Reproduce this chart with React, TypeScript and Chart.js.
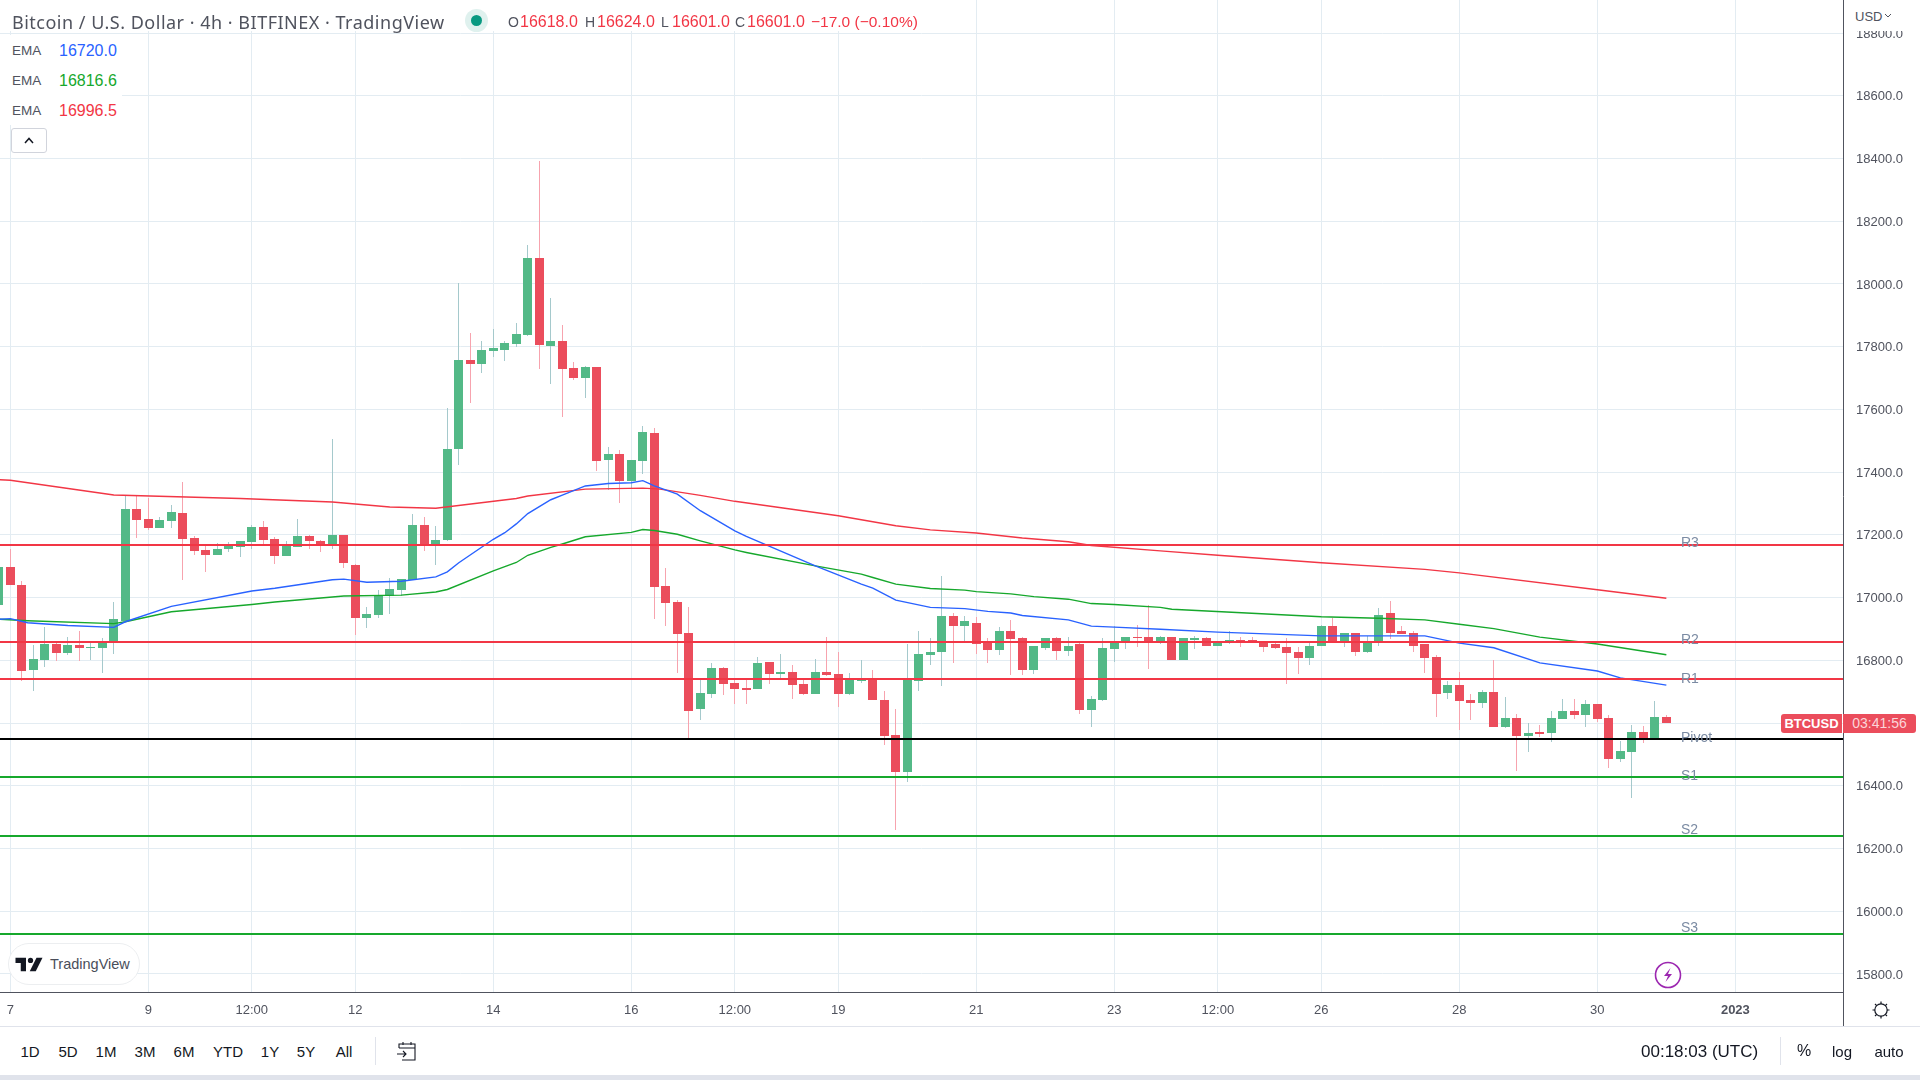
import React, { useEffect, useRef } from "react";
import { Chart, registerables } from "chart.js";

Chart.register(...registerables);

const firstCandleIndex = -1;
const opens = [
  16976,17096,17041,16769,16800,16851,16823,16848,16838,16838,
  16860,16927,17282,17250,17221,17243,17269,17189,17151,17135,
  17154,17160,17176,17224,17186,17132,17160,17196,17180,17169,
  17199,17103,16934,16943,17004,17024,17056,17231,17168,17183,
  17473,17757,17745,17786,17789,17809,17837,18083,17802,17818,
  17732,17700,17735,17438,17457,17371,17435,17525,17036,16985,
  16886,16646,16694,16774,16729,16713,16710,16796,16755,16764,
  16723,16694,16764,16758,16694,16733,16745,16675,16563,16445,
  16733,16816,16825,16940,16908,16918,16857,16832,16892,16870,
  16768,16838,16870,16831,16851,16643,16675,16835,16857,16873,
  16873,16857,16876,16800,16866,16870,16847,16857,16866,16866,
  16860,16851,16841,16825,16809,16847,16911,16863,16886,16828,
  16860,16950,16895,16886,16851,16812,16695,16721,16673,16663,
  16698,16587,16615,16558,16571,16567,16612,16638,16625,16660,
  16615,16484,16507,16571,16551,16618,
];
const highs = [
  17130,17156,17054,16848,16905,16854,16873,16895,16854,16870,
  16985,17324,17324,17318,17256,17294,17368,17196,17165,17173,
  17176,17180,17231,17243,17192,17180,17250,17199,17183,17505,
  17199,17106,16969,17023,17061,17058,17266,17256,17228,17604,
  18003,17844,17818,17856,17818,17876,18125,18392,17955,17869,
  17751,17738,17735,17480,17470,17438,17547,17540,17093,16991,
  16969,16736,16793,16780,16736,16745,16812,16796,16819,16784,
  16745,16803,16873,16825,16761,16800,16768,16701,16646,16851,
  16892,16870,17068,16950,16940,16937,16870,16905,16930,16873,
  16847,16870,16873,16873,16854,16685,16870,16908,16876,16914,
  16976,16879,16876,16870,16879,16873,16860,16892,16876,16876,
  16860,16854,16870,16841,16863,16914,16934,16886,16886,16879,
  16966,16988,16908,16895,16851,16816,16733,16762,16692,16705,
  16800,16682,16628,16599,16593,16638,16676,16676,16673,16660,
  16625,16542,16593,16590,16669,16625,
];
const lows = [
  16960,17040,16734,16702,16778,16798,16816,16798,16800,16759,
  16819,16927,17189,17215,17221,17221,17055,17135,17081,17135,
  17144,17128,17154,17170,17106,17132,17160,17154,17144,17154,
  17093,16880,16902,16934,16947,17005,17056,17149,17104,17181,
  17422,17620,17716,17767,17754,17799,17834,17729,17681,17576,
  17694,17636,17403,17344,17301,17351,17394,16931,16911,16761,
  16551,16611,16681,16688,16662,16662,16710,16726,16742,16678,
  16691,16694,16749,16650,16688,16729,16672,16531,16260,16413,
  16701,16784,16717,16793,16860,16819,16793,16816,16752,16752,
  16755,16832,16800,16815,16630,16589,16669,16796,16835,16841,
  16771,16851,16800,16800,16835,16847,16847,16851,16844,16857,
  16828,16835,16723,16755,16784,16847,16857,16844,16815,16822,
  16847,16867,16883,16828,16761,16618,16676,16577,16609,16647,
  16587,16583,16446,16507,16555,16539,16612,16612,16587,16602,
  16456,16475,16360,16535,16551,16599,
];
const closes = [
  17096,17040,16766,16803,16851,16823,16848,16838,16841,16854,
  16931,17282,17247,17221,17247,17272,17186,17148,17135,17154,
  17164,17180,17224,17183,17132,17164,17196,17180,17167,17199,
  17109,16934,16947,17004,17026,17058,17231,17170,17183,17473,
  17757,17745,17789,17796,17812,17841,18083,17805,17818,17729,
  17700,17735,17435,17457,17371,17438,17528,17033,16982,16883,
  16640,16697,16777,16723,16710,16707,16793,16755,16764,16720,
  16694,16764,16752,16694,16739,16745,16672,16560,16445,16739,
  16819,16828,16940,16908,16924,16851,16832,16892,16867,16768,
  16847,16870,16831,16847,16643,16678,16838,16857,16873,16870,
  16857,16876,16800,16870,16870,16847,16857,16866,16863,16857,
  16844,16838,16822,16809,16847,16911,16863,16886,16828,16854,
  16946,16886,16883,16847,16809,16694,16721,16670,16663,16698,
  16587,16615,16558,16567,16564,16615,16638,16625,16660,16612,
  16484,16510,16571,16551,16618,16601,
];

const emaBlueAt = [-1,0,1.5,5,9,10,14,21,23,28,29,31,34,37,38,39,42,43,44,45,47,48,50,52,54,55,56,58,60,63,64,70,74,75,77,80,83,85,87,88,92,94,96,100,105,114,123,126,129,133,138,140,144];
const emaBlue = [16931,16933,16920,16911,16905,16923,16972,17021,17030,17057,17059,17049,17052,17066,17082,17111,17186,17207,17235,17268,17312,17327,17356,17364,17366,17373,17356,17330,17277,17213,17195,17101,17043,17030,16992,16969,16965,16956,16951,16943,16929,16909,16906,16899,16890,16878,16878,16855,16840,16792,16766,16744,16721];
const emaGreenAt = [-1,1.5,9,10,14,21,23,29,34,37,38,42,44,45,47,48,50,54,55,56,58,60,63,64,70,74,75,77,80,83,84,87,89,92,94,96,100,101,114,119,123,126,129,133,138,144];
const emaGreen = [16931,16926,16917,16923,16955,16978,16986,17005,17008,17018,17026,17085,17112,17135,17160,17171,17194,17208,17217,17214,17202,17181,17152,17144,17101,17075,17064,17043,17029,17024,17019,17012,17003,16995,16981,16978,16969,16963,16939,16934,16929,16915,16901,16874,16852,16818];
const emaRedAt = [-1,0,9,20,28,33,37,44,45,50,55,56.5,60,63,72,77,80,84,88,92,94,100,105,114,123,126,138,144];
const emaRed = [17376,17374,17327,17316,17305,17289,17285,17316,17324,17346,17349,17346,17326,17307,17261,17229,17216,17206,17190,17178,17166,17149,17135,17111,17090,17079,17025,16998];

const levelNames = ["R3", "R2", "R1", "Pivot", "S1", "S2", "S3"];
const levelValues = [17167, 16857, 16739, 16548, 16429, 16239, 15929];
const levelColors = ["#f23645", "#f23645", "#f23645", "#000000", "#16a82c", "#16a82c", "#16a82c"];
const levelLabelLift = [2, 2, 0, 1, 1, 6, 5];

const priceTicks = [15800,16000,16200,16400,16600,16800,17000,17200,17400,17600,17800,18000,18200,18400,18600,18800];
const timeTickIndex = [0, 12, 21, 30, 42, 54, 63, 72, 84, 96, 105, 114, 126, 138, 150];
const timeTickLabels = ["7", "9", "12:00", "12", "14", "16", "12:00", "19", "21", "23", "12:00", "26", "28", "30", "2023"];

const rangeButtons = ["1D", "5D", "1M", "3M", "6M", "YTD", "1Y", "5Y", "All"];
const rangeButtonCentres = [30, 68, 106, 145, 184, 228, 270, 306, 344];

const FONT = '"Liberation Sans", sans-serif';
const TITLE_FONT = '"Noto Sans", sans-serif';
const UP = "#53b987";
const DOWN = "#eb4d5c";
const UP_WICK = "#a5c9cc";
const DOWN_WICK = "#f7a3ae";
const GRID = "#e3ecf2";
const AXIS = "#50535e";

const levelLabelPlugin = {
  id: "levelLabels",
  afterDatasetsDraw(chart: any) {
    const { ctx, scales } = chart;
    ctx.save();
    ctx.font = `14px ${FONT}`;
    ctx.fillStyle = "#7b8ba3";
    ctx.textBaseline = "middle";
    ctx.textAlign = "left";
    levelNames.forEach((name, i) => {
      ctx.fillText(name, 1681, scales.y.getPixelForValue(levelValues[i]) - levelLabelLift[i]);
    });
    ctx.restore();
  },
};

// The reference rasterises candles and level lines on whole pixels.
const pixelSnapPlugin = {
  id: "pixelSnap",
  afterDatasetsUpdate(chart: any) {
    chart.data.datasets.forEach((ds: any, d: number) => {
      const meta = chart.getDatasetMeta(d);
      if (meta.type === "bar") {
        meta.data.forEach((el: any) => {
          el.x = Math.floor(el.x) + 0.5;
          const top = Math.round(Math.min(el.y, el.base));
          let bottom = Math.round(Math.max(el.y, el.base));
          if (bottom <= top) bottom = top + 1;
          el.y = top;
          el.base = bottom;
          el.height = bottom - top;
        });
      } else if (levelNames.includes(ds.label)) {
        meta.data.forEach((p: any) => {
          p.y = Math.round(p.y);
        });
      }
    });
  },
};

function line(label: string, at: number[], values: number[], color: string, width: number, order: number) {
  return {
    type: "line" as const,
    label,
    data: at.map((x, i) => ({ x, y: values[i] })),
    borderColor: color,
    borderWidth: width,
    pointRadius: 0,
    tension: 0,
    order,
  };
}

const text = (x: number, y: number, s: string, color: string, size = 14, extra: any = {}) => (
  <div
    key={`${s}-${x}-${y}`}
    style={{
      position: "absolute",
      left: x,
      top: y,
      transform: "translateY(-50%)",
      color,
      fontSize: size,
      fontFamily: FONT,
      whiteSpace: "pre",
      lineHeight: 1,
      ...extra,
    }}
  >
    {s}
  </div>
);

export default function App() {
  const ref = useRef<HTMLCanvasElement>(null);

  useEffect(() => {
    document.body.style.margin = "0";
    document.body.style.background = "#fff";
    const indices = opens.map((_, i) => firstCandleIndex + i);
    const rising = opens.map((o, i) => closes[i] >= o);
    const chart = new Chart(ref.current!, {
      type: "bar",
      data: {
        datasets: [
          {
            label: "Wicks",
            data: indices.map((x, i) => ({ x, y: [lows[i], highs[i]] })),
            backgroundColor: rising.map((r) => (r ? UP_WICK : DOWN_WICK)),
            barThickness: 1,
            inflateAmount: 0,
            grouped: false,
            order: 6,
          },
          {
            label: "Bodies",
            data: indices.map((x, i) => ({ x, y: [opens[i], closes[i]] })),
            backgroundColor: rising.map((r) => (r ? UP : DOWN)),
            barThickness: 9,
            inflateAmount: 0,
            grouped: false,
            order: 5,
          },
          line("EMA 16720.0", emaBlueAt, emaBlue, "#2962ff", 1.4, 3),
          line("EMA 16816.6", emaGreenAt, emaGreen, "#16a82c", 1.4, 3),
          line("EMA 16996.5", emaRedAt, emaRed, "#f23645", 1.4, 3),
          ...levelNames.map((n, i) =>
            line(n, [-1, 160], [levelValues[i], levelValues[i]], levelColors[i], 2, 2)
          ),
        ],
      } as any,
      options: {
        animation: false,
        responsive: false,
        events: [],
        layout: { padding: 0 },
        plugins: { legend: { display: false }, tooltip: { enabled: false } },
        scales: {
          x: {
            type: "linear",
            offset: false,
            min: -0.896,
            max: 159.36,
            afterBuildTicks(scale: any) {
              scale.ticks = timeTickIndex.map((value) => ({ value }));
            },
            afterFit(scale: any) {
              scale.height = 34;
              scale.paddingLeft = 0;
              scale.paddingRight = 0;
              scale.paddingTop = 0;
              scale.paddingBottom = 0;
            },
            grid: { color: GRID, lineWidth: 1, drawTicks: false, offset: false },
            border: { display: true, color: AXIS, width: 1 },
            ticks: {
              autoSkip: false,
              maxRotation: 0,
              padding: 11,
              color: AXIS,
              font: (c: any) => ({
                family: FONT,
                size: 13,
                weight: c.tick && c.tick.value === 150 ? "bold" : "normal",
              }),
              callback: (v: any) => timeTickLabels[timeTickIndex.indexOf(v)] ?? "",
            },
          },
          y: {
            type: "linear",
            position: "right",
            min: 15742.6,
            max: 18905.3,
            afterBuildTicks(scale: any) {
              scale.ticks = priceTicks.map((value) => ({ value }));
            },
            afterFit(scale: any) {
              scale.width = 77;
              scale.paddingLeft = 0;
              scale.paddingRight = 0;
              scale.paddingTop = 0;
              scale.paddingBottom = 0;
            },
            grid: { color: GRID, lineWidth: 1, drawTicks: false },
            border: { display: true, color: AXIS, width: 1 },
            ticks: {
              padding: 13,
              labelOffset: 1,
              color: AXIS,
              font: { family: FONT, size: 13 },
              callback: (v: any) => Number(v).toFixed(1),
            },
          },
        },
      },
      plugins: [pixelSnapPlugin, levelLabelPlugin],
    } as any);
    return () => chart.destroy();
  }, []);

  const dark = "#131722";
  const red = "#f23645";
  return (
    <div style={{ position: "relative", width: 1920, height: 1080, overflow: "hidden", background: "#fff" }}>
      <canvas ref={ref} width={1920} height={1026} style={{ display: "block", width: 1920, height: 1026 }} />

      {/* legend */}
      <div style={{ position: "absolute", left: 0, top: 0, width: 930, height: 31, background: "#fff" }} />
      {text(12, 22, "Bitcoin / U.S. Dollar · 4h · BITFINEX · TradingView", "#50535e", 18, { fontFamily: TITLE_FONT, letterSpacing: 0.5 })}
      <div style={{ position: "absolute", left: 465, top: 9, width: 23, height: 23, borderRadius: 12, background: "#dff1ee" }} />
      <div style={{ position: "absolute", left: 471, top: 15, width: 11, height: 11, borderRadius: 6, background: "#089981" }} />
      {text(508, 22, "O", AXIS, 14)}
      {text(520, 22, "16618.0", red, 16)}
      {text(585, 22, "H", AXIS, 14)}
      {text(597, 22, "16624.0", red, 16)}
      {text(661, 22, "L", AXIS, 14)}
      {text(672, 22, "16601.0", red, 16)}
      {text(735, 22, "C", AXIS, 14)}
      {text(747, 22, "16601.0", red, 16)}
      {text(811, 22, "−17.0 (−0.10%)", red, 15.5)}

      <div style={{ position: "absolute", left: 0, top: 35, width: 122, height: 90, background: "#fff" }} />
      {text(12, 51, "EMA", AXIS, 13.5)}
      {text(59, 51, "16720.0", "#2962ff", 16)}
      {text(12, 81, "EMA", AXIS, 13.5)}
      {text(59, 81, "16816.6", "#16a82c", 16)}
      {text(12, 111, "EMA", AXIS, 13.5)}
      {text(59, 111, "16996.5", red, 16)}
      <div
        style={{
          position: "absolute", left: 11, top: 128, width: 36, height: 25, boxSizing: "border-box",
          background: "#fff", border: "1px solid #d1d4dc", borderRadius: 3,
        }}
      >
        <svg width="34" height="23" viewBox="0 0 34 23" style={{ display: "block" }}>
          <path d="M13 14 L17 9.5 L21 14" fill="none" stroke="#131722" strokeWidth="1.5" />
        </svg>
      </div>

      {/* currency box over the top of the price axis */}
      <div style={{ position: "absolute", left: 1844, top: 4, width: 76, height: 27, background: "#fff" }} />
      {text(1855, 16, "USD", AXIS, 13)}
      <svg width="8" height="6" style={{ position: "absolute", left: 1884, top: 13 }}>
        <path d="M1 1 L4 4 L7 1" fill="none" stroke="#50535e" strokeWidth="1" />
      </svg>

      {/* price tags */}
      <div style={{ position: "absolute", left: 1781, top: 714, width: 61, height: 19, background: "#eb4d5c", borderRadius: "3px 0 0 3px", color: "#fff", font: `bold 13px ${FONT}`, lineHeight: "19px", textAlign: "center" }}>BTCUSD</div>
      <div style={{ position: "absolute", left: 1843, top: 714, width: 73, height: 19, background: "#eb4d5c", borderRadius: "0 3px 3px 0", color: "#fbd5d9", font: `14px ${FONT}`, lineHeight: "19px", textAlign: "center" }}>03:41:56</div>

      {/* watermark */}
      <div
        style={{
          position: "absolute", left: 8, top: 943, width: 132, height: 42, boxSizing: "border-box",
          background: "#fff", border: "1.5px solid #eceef0", borderRadius: 21,
        }}
      >
        <svg width="28" height="15" viewBox="0 0 36 20" style={{ position: "absolute", left: 6, top: 13 }}>
          <path d="M0 1 H14 V19 H7 V8 H0 Z" fill="#131722" />
          <circle cx="20" cy="4.5" r="3.5" fill="#131722" />
          <path d="M28 1 H36 L27 19 H19 Z" fill="#131722" />
        </svg>
        {text(41, 20, "TradingView", "#4a4e5a", 14.5)}
      </div>

      {/* bolt */}
      <svg width="28" height="28" viewBox="0 0 28 28" style={{ position: "absolute", left: 1654, top: 961 }}>
        <circle cx="14" cy="14" r="12.5" fill="#fff" stroke="#9c27b0" strokeWidth="1.6" />
        <path d="M16.5 7 L10 15 H14 L11.5 21 L18 13 H14 Z" fill="#9c27b0" />
      </svg>

      {/* time-axis / price-axis corner */}
      <div style={{ position: "absolute", left: 1843, top: 992, width: 1, height: 34, background: AXIS }} />
      <svg width="22" height="22" viewBox="0 0 22 22" style={{ position: "absolute", left: 1870, top: 999 }}>
        <circle cx="11" cy="11" r="6.2" fill="none" stroke="#131722" strokeWidth="1.2" />
        <path d="M11 2.5 V5 M11 17 V19.5 M2.5 11 H5 M17 11 H19.5 M5 5 L6.7 6.7 M15.3 15.3 L17 17 M5 17 L6.7 15.3 M15.3 6.7 L17 5" stroke="#131722" strokeWidth="1.2" />
      </svg>

      {/* toolbar */}
      <div style={{ position: "absolute", left: 0, top: 1026, width: 1920, height: 1, background: "#e0e3eb" }} />
      {rangeButtons.map((b, i) =>
        text(rangeButtonCentres[i], 1051, b, dark, 15, { transform: "translate(-50%,-50%)" })
      )}
      <div style={{ position: "absolute", left: 375, top: 1037, width: 1, height: 28, background: "#e0e3eb" }} />
      <svg width="22" height="22" viewBox="0 0 22 22" style={{ position: "absolute", left: 396, top: 1040 }}>
        <path d="M3 8 V4 H19 V20 H6 M3 8 H19 M7 2 V5 M15 2 V5 M1 14 H10 M7 11 L10 14 L7 17" fill="none" stroke="#131722" strokeWidth="1.1" />
      </svg>
      {text(1641, 1051, "00:18:03 (UTC)", dark, 17)}
      <div style={{ position: "absolute", left: 1780, top: 1037, width: 1, height: 28, background: "#e0e3eb" }} />
      {text(1804, 1051, "%", dark, 16, { transform: "translate(-50%,-50%)" })}
      {text(1842, 1051, "log", dark, 15, { transform: "translate(-50%,-50%)" })}
      {text(1889, 1051, "auto", dark, 15, { transform: "translate(-50%,-50%)" })}
      <div style={{ position: "absolute", left: 0, top: 1075, width: 1920, height: 5, background: "#e0e3eb" }} />
    </div>
  );
}
